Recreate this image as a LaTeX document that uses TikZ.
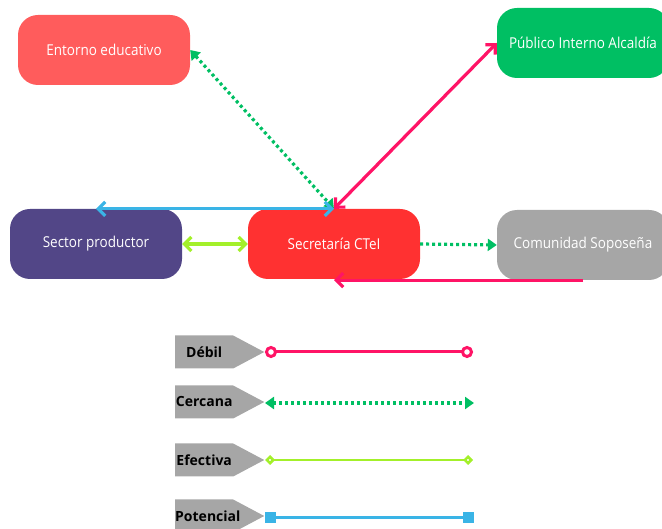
\documentclass[tikz,border=0pt]{standalone}
\usepackage{fontspec}
\setmainfont{Open Sans}
\newfontfamily\boxfont{Open Sans}[FakeStretch=0.9]
\usetikzlibrary{arrows.meta,shapes.symbols}
\definecolor{coral}{HTML}{FF5C5C}
\definecolor{verde}{HTML}{00BF63}
\definecolor{morado}{HTML}{524687}
\definecolor{rojo}{HTML}{FF3131}
\definecolor{gris}{HTML}{A6A6A6}
\definecolor{rosa}{HTML}{FF1466}
\definecolor{azul}{HTML}{3AB4E6}
\definecolor{lima}{HTML}{A3F02A}
\tikzset{
    actor/.style={rounded corners=20pt,minimum width=172pt,minimum height=70pt,text=white,font=\boxfont\fontsize{15}{17}\selectfont},
    tag/.style={signal,signal to=east,fill=gris,minimum height=33pt,text width=58pt,inner xsep=0pt,align=center,signal pointer angle=56,font=\bfseries\fontsize{14}{16}\selectfont},
    barb/.tip={Straight Barb[length=7pt,width=14pt]},
    tri/.tip={Triangle[length=9pt,width=12pt]},
    debil/.style={barb-barb,draw=rosa,line width=3.2pt},
    cercana/.style={tri-tri,draw=verde,line width=3.2pt,dash pattern=on 3pt off 3pt},
    efectiva/.style={barb-barb,draw=lima,line width=3.2pt},
    potencial/.style={barb-barb,draw=azul,line width=3.2pt},
}
\begin{document}
\begin{tikzpicture}[x=1pt,y=-1pt]
    \useasboundingbox (0,0) rectangle (662,529);
    \node[actor,fill=coral] (ent) at (104,50) {Entorno educativo};
    \node[actor,fill=verde] (pub) at (583,43) {Público Interno Alcaldía};
    \node[actor,fill=morado] (sp) at (96,244) {Sector productor};
    \node[actor,fill=rojo] (sec) at (334,244) {Secretaría CTeI};
    \node[actor,fill=gris] (com) at (583,245) {Comunidad Soposeña};
    \draw[cercana] (ent.east) -- (sec.north);
    \draw[debil] (sec.north) -- (pub.west);
    \draw[potencial] (sp.north) -- (sec.north);
    \draw[efectiva] (sp.east) -- (sec.west);
    \draw[cercana,-tri] (sec.east) -- (com.west);
    \draw[debil,-barb] (com.south) -- (com.south -| sec.south);
    % leyenda
    \node[tag,anchor=west] (t1) at (175,352) {Débil};
    \node[tag,anchor=west] (t2) at (175,402) {Cercana};
    \node[tag,anchor=west] (t3) at (175,460) {Efectiva};
    \node[tag,anchor=west] (t4) at (175,516) {Potencial};
    \coordinate (d1) at (265,352); \coordinate (d2) at (473,352);
    \coordinate (c1) at (265,403); \coordinate (c2) at (474,403);
    \coordinate (e1) at (265,460); \coordinate (e2) at (473,460);
    \coordinate (p1) at (265,517); \coordinate (p2) at (474,517);
    \draw[draw=rosa,line width=3pt,{Circle[open,length=12pt,width=12pt,fill=white]}-{Circle[open,length=12pt,width=12pt,fill=white]}] (d1) -- (d2);
    \draw[cercana] (c1) -- (c2);
    \draw[draw=lima,line width=2.6pt,{Diamond[open,length=10pt,width=10pt,fill=white]}-{Diamond[open,length=10pt,width=10pt,fill=white]}] (e1) -- (e2);
    \draw[draw=azul,line width=3pt,{Square[length=11pt,width=11pt]}-{Square[length=11pt,width=11pt]}] (p1) -- (p2);
\end{tikzpicture}
\end{document}
